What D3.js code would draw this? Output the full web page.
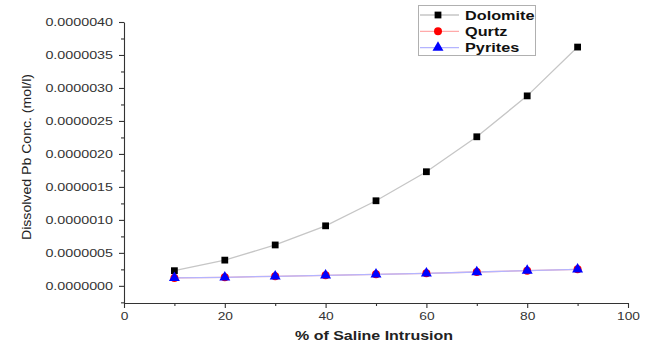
<!DOCTYPE html>
<html lang="en">
<head>
<meta charset="utf-8">
<script src="https://d3js.org/d3.v7.min.js"></script>
<style>
  body { margin: 0; background: #fff; }
  svg { display: block; font-family: "Liberation Sans", Arial, sans-serif; }
</style>
</head>
<body>
<script>
  var width = 651, height = 344;

  // data
  var saline = [10, 20, 30, 40, 50, 60, 70, 80, 90];
  var dolomite = [0.23e-6, 0.39e-6, 0.62e-6, 0.91e-6, 1.29e-6, 1.73e-6, 2.26e-6, 2.88e-6, 3.62e-6];
  var qurtz = [0.12e-6, 0.13e-6, 0.145e-6, 0.16e-6, 0.175e-6, 0.19e-6, 0.21e-6, 0.23e-6, 0.25e-6];
  var pyrites = [0.12e-6, 0.13e-6, 0.145e-6, 0.16e-6, 0.175e-6, 0.19e-6, 0.21e-6, 0.23e-6, 0.25e-6];
  var seriesNames = ['Dolomite', 'Qurtz', 'Pyrites'];
  var xTicks = [0, 20, 40, 60, 80, 100];
  var xMinor = [10, 30, 50, 70, 90];
  var yTicks = [0, 0.5e-6, 1e-6, 1.5e-6, 2e-6, 2.5e-6, 3e-6, 3.5e-6, 4e-6];
  var yMinor = [-0.25e-6, 0.25e-6, 0.75e-6, 1.25e-6, 1.75e-6, 2.25e-6, 2.75e-6, 3.25e-6, 3.75e-6];

  var series = [
    {name: seriesNames[0], values: dolomite, line: '#c6c6c6', fill: '#000', shape: d3.symbolSquare, size: 46},
    {name: seriesNames[1], values: qurtz, line: '#ffaaaa', fill: '#ff0000', shape: d3.symbolCircle, size: 50},
    {name: seriesNames[2], values: pyrites, line: '#b4b4ff', fill: '#0000ff', shape: d3.symbolTriangle, size: 52}
  ];

  var x = d3.scaleLinear().domain([0, 100]).range([124, 628]);
  var y = d3.scaleLinear().domain([-0.26e-6, 4e-6]).range([303, 22]);

  var svg = d3.select('body').append('svg')
    .attr('width', width)
    .attr('height', height);

  // stretch text sideways, the picture is wider than normal type
  function stretch(sel, k) {
    sel.each(function() {
      var w = this.getComputedTextLength();
      d3.select(this).attr('textLength', w * k).attr('lengthAdjust', 'spacingAndGlyphs');
    });
  }

  var axisColor = '#333';

  // x axis
  var gx = svg.append('g').attr('transform', 'translate(0,303)')
    .call(d3.axisBottom(x).tickValues(xTicks).tickSize(5).tickSizeOuter(0).tickPadding(4));
  svg.append('g').attr('transform', 'translate(0,303)')
    .call(d3.axisBottom(x).tickValues(xMinor).tickSize(3).tickFormat(''))
    .select('.domain').remove();

  // y axis
  var gy = svg.append('g').attr('transform', 'translate(124,0)')
    .call(d3.axisLeft(y).tickValues(yTicks).tickSize(5).tickSizeOuter(0).tickPadding(6)
      .tickFormat(function(d) { return d.toFixed(7); }));
  svg.append('g').attr('transform', 'translate(124,0)')
    .call(d3.axisLeft(y).tickValues(yMinor).tickSize(3).tickFormat(''))
    .select('.domain').remove();

  svg.selectAll('.domain, .tick line').attr('stroke', axisColor).attr('stroke-width', 1.1);
  svg.selectAll('.tick text').attr('fill', axisColor).style('font-size', '11px');
  stretch(gx.selectAll('.tick text'), 1.25);
  stretch(gy.selectAll('.tick text'), 1.3);

  // axis titles
  svg.append('text')
    .attr('x', 374).attr('y', 340)
    .attr('text-anchor', 'middle')
    .attr('fill', '#222')
    .style('font-size', '13px')
    .style('font-weight', 'bold')
    .attr('textLength', 158)
    .attr('lengthAdjust', 'spacingAndGlyphs')
    .text('% of Saline Intrusion');

  svg.append('text')
    .attr('transform', 'translate(31,157) rotate(-90)')
    .attr('text-anchor', 'middle')
    .attr('fill', '#222')
    .style('font-size', '13px')
    .attr('textLength', 166)
    .attr('lengthAdjust', 'spacingAndGlyphs')
    .text('Dissolved Pb Conc. (mol/l)');

  // lines and markers
  var line = d3.line()
    .x(function(d, i) { return x(saline[i]); })
    .y(function(d) { return y(d); });

  series.forEach(function(s) {
    svg.append('path')
      .datum(s.values)
      .attr('fill', 'none')
      .attr('stroke', s.line)
      .attr('stroke-width', 1.3)
      .attr('d', line);
  });

  series.forEach(function(s) {
    svg.append('g').selectAll('path')
      .data(s.values)
      .join('path')
      .attr('d', d3.symbol().type(s.shape).size(s.size))
      .attr('fill', s.fill)
      .attr('transform', function(d, i) { return 'translate(' + x(saline[i]) + ',' + y(d) + ')'; });
  });

  // legend
  var lg = svg.append('g');
  lg.append('rect')
    .attr('x', 418.5).attr('y', 5.5)
    .attr('width', 117).attr('height', 50)
    .attr('fill', '#fff')
    .attr('stroke', '#b0b0b0');

  series.forEach(function(s, i) {
    var cy = 15 + i * 16.3;
    lg.append('line')
      .attr('x1', 420).attr('x2', 459)
      .attr('y1', cy).attr('y2', cy)
      .attr('stroke', s.line).attr('stroke-width', 1.3);
    lg.append('path')
      .attr('d', d3.symbol().type(s.shape).size(s.size))
      .attr('fill', s.fill)
      .attr('transform', 'translate(438,' + cy + ')');
    var t = lg.append('text')
      .attr('x', 465).attr('y', cy + 4.5)
      .attr('fill', '#111')
      .style('font-size', '12.5px')
      .style('font-weight', 'bold')
      .text(s.name);
    stretch(t, 1.3);
  });
</script>
</body>
</html>
